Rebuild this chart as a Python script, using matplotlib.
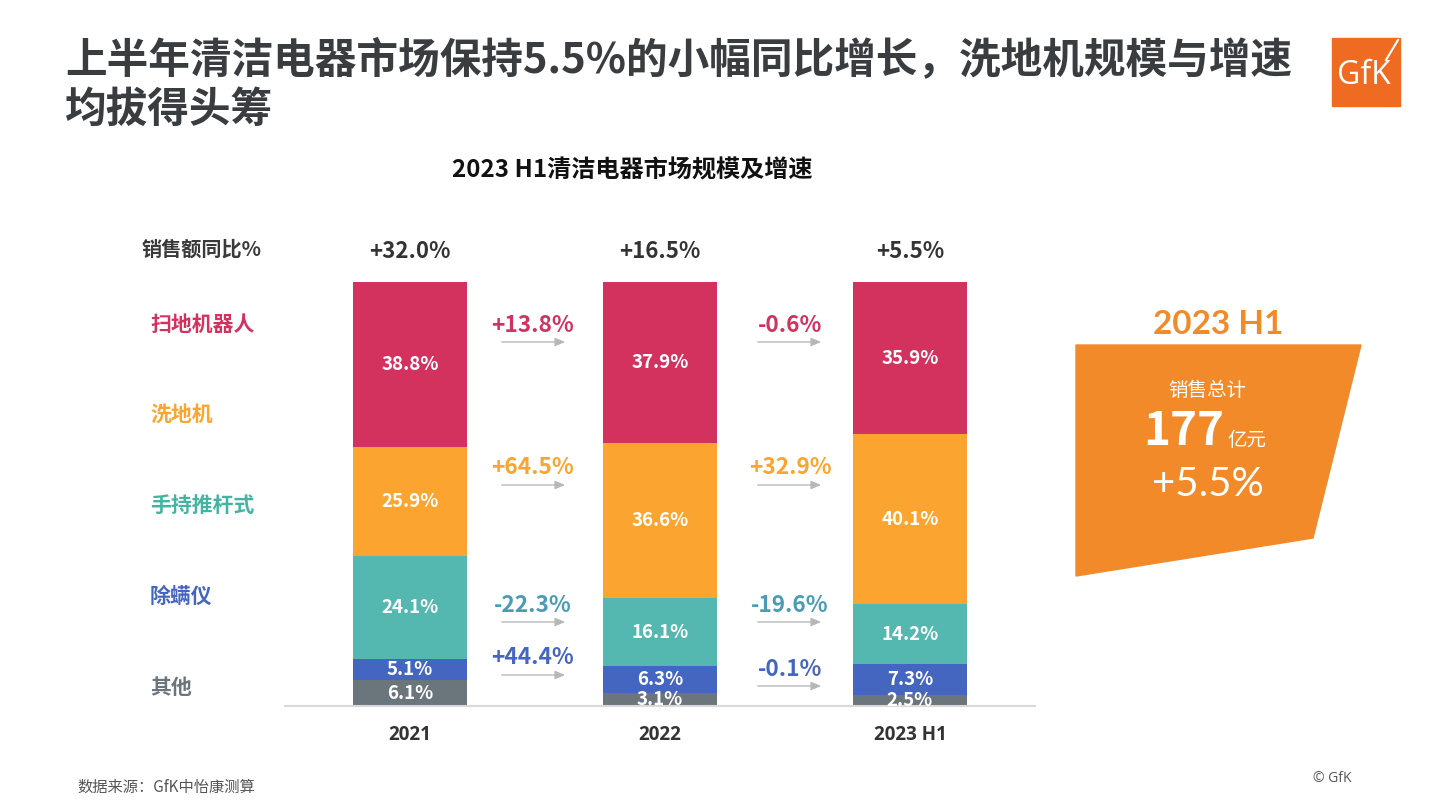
import matplotlib
matplotlib.use("Agg")
import matplotlib.pyplot as plt
from matplotlib.patches import Polygon, Rectangle
import numpy as np

plt.rcParams['font.family'] = ['Noto Sans CJK SC', 'DejaVu Sans']

# ---------------- data ----------------
years = ["2021", "2022", "2023 H1"]
categories = ["其他", "除螨仪", "手持推杆式", "洗地机", "扫地机器人"]  # bottom -> top
share_other = [6.1, 3.1, 2.5]
share_mite = [5.1, 6.3, 7.3]
share_stick = [24.1, 16.1, 14.2]
share_floor = [25.9, 36.6, 40.1]
share_robot = [38.8, 37.9, 35.9]
total_growth = ["+32.0%", "+16.5%", "+5.5%"]
# growth per category (top -> bottom rows: 扫地机器人, 洗地机, 手持推杆式, 除螨仪)
growth_labels_rows = ["扫地机器人", "洗地机", "手持推杆式", "除螨仪"]
growth_21_22 = ["+13.8%", "+64.5%", "-22.3%", "+44.4%"]
growth_22_23 = ["-0.6%", "+32.9%", "-19.6%", "-0.1%"]
total_sales = "177"
total_sales_unit = "亿元"
total_sales_growth = "+5.5%"

colors = {
    "其他": "#6b757c",
    "除螨仪": "#4566c0",
    "手持推杆式": "#55b8b0",
    "洗地机": "#fba42f",
    "扫地机器人": "#d3325f",
}
label_colors = {
    "其他": "#6b757c",
    "除螨仪": "#4566c0",
    "手持推杆式": "#45b3a2",
    "洗地机": "#fba42f",
    "扫地机器人": "#d3325f",
}
growth_colors = ["#d3325f", "#fba42f", "#4a9bb5", "#4566c0"]

W, H = 1441, 810
fig = plt.figure(figsize=(W / 100, H / 100), dpi=100)

# overlay axes in pixel coordinates
ov = fig.add_axes([0, 0, 1, 1])
ov.set_xlim(0, W)
ov.set_ylim(H, 0)
ov.axis("off")

# bar axes: x px 285..1035, y px 282..706
ax = fig.add_axes([285 / W, (H - 706) / H, 750 / W, 424 / H])
ax.set_xlim(-0.5, 2.5)
ax.set_ylim(0, 100)
for s in ["top", "right", "left"]:
    ax.spines[s].set_visible(False)
ax.spines["bottom"].set_color("#d9d9d9")
ax.spines["bottom"].set_linewidth(1.5)
ax.set_yticks([])
ax.set_xticks(range(3))
ax.set_xticklabels(years, fontsize=13.5, fontweight="bold", color="#333333",
                   family=["Open Sans", "Noto Sans CJK SC"])
ax.tick_params(axis="x", length=0, pad=14)
ax.patch.set_alpha(0)

shares = [share_other, share_mite, share_stick, share_floor, share_robot]
x = np.arange(3)
bottom = np.zeros(3)
bw = 0.456
for cat, vals in zip(categories, shares):
    vals = np.array(vals)
    ax.bar(x, vals, bw, bottom=bottom, color=colors[cat], edgecolor="none", zorder=2)
    for i in range(3):
        ax.text(x[i], bottom[i] + vals[i] / 2, f"{vals[i]:.1f}%", ha="center", va="center",
                color="white", fontsize=13.5, fontweight="bold",
                family=["Noto Sans CJK SC", "DejaVu Sans"], zorder=3, clip_on=True)
    bottom += vals

def py(p):
    return (706 - p) / 4.24

# totals
for i in range(3):
    ax.text(x[i], py(251), total_growth[i], ha="center", va="center", fontsize=16,
            color="#333333", family=["Noto Sans CJK SC", "DejaVu Sans"], fontweight="bold",
            clip_on=False)

# growth labels between bars
left_label_y = [326, 468, 605, 658]
left_arrow_y = [342, 485, 622, 675]
right_label_y = [326, 468, 605, 669]
right_arrow_y = [342, 485, 622, 686]
for k in range(4):
    ax.text((533 - 410) / 250, py(left_label_y[k]), growth_21_22[k], ha="center", va="center",
            fontsize=16.3, color=growth_colors[k], family=["Noto Sans CJK SC", "DejaVu Sans"],
            fontweight="bold", clip_on=False)
    ax.annotate("", xy=((568 - 410) / 250, py(left_arrow_y[k])),
                xytext=((499 - 410) / 250, py(left_arrow_y[k])),
                arrowprops=dict(arrowstyle="-|>,head_length=0.6,head_width=0.25",
                                color="#b8b8b8", lw=1.0), annotation_clip=False)
    ax.text((790 - 410) / 250, py(right_label_y[k]), growth_22_23[k], ha="center", va="center",
            fontsize=16.3, color=growth_colors[k], family=["Noto Sans CJK SC", "DejaVu Sans"],
            fontweight="bold", clip_on=False)
    ax.annotate("", xy=((824 - 410) / 250, py(right_arrow_y[k])),
                xytext=((755 - 410) / 250, py(right_arrow_y[k])),
                arrowprops=dict(arrowstyle="-|>,head_length=0.6,head_width=0.25",
                                color="#b8b8b8", lw=1.0), annotation_clip=False)

# left category labels
ov.text(142, 249, "销售额同比%", ha="left", va="center", fontsize=14.5,
        fontweight="bold", color="#3a3a3a")
left_y = {"扫地机器人": 324, "洗地机": 414, "手持推杆式": 505, "除螨仪": 596, "其他": 687}
for cat, yy in left_y.items():
    ov.text(150, yy, cat, ha="left", va="center", fontsize=15, fontweight="bold",
            color=label_colors[cat])

# main title
ov.text(65, 60, "上半年清洁电器市场保持5.5%的小幅同比增长，洗地机规模与增速", ha="left",
        va="center", fontsize=30, fontweight="bold", color="#3a3d40")
ov.text(65, 110, "均拔得头筹", ha="left", va="center", fontsize=30, fontweight="bold",
        color="#3a3d40")
ov.text(632, 170, "2023 H1清洁电器市场规模及增速", ha="center", va="center", fontsize=17.4,
        fontweight="bold", color="#111111")

# GfK logo
ov.add_patch(Rectangle((1332, 38), 68, 68, color="#f06b22", zorder=1))
ov.text(1364, 76, "GfK", ha="center", va="center", fontsize=23, color="white",
        family=["Open Sans", "DejaVu Sans"], zorder=2)
ov.plot([1386, 1398], [60, 40], color="white", lw=1.5, zorder=2)

# orange summary shape
ov.add_patch(Polygon([(1076, 345), (1361, 345), (1313, 538), (1076, 576)],
                     closed=True, color="#f28a2a", zorder=1))
ov.text(1218, 324, "2023 H1", ha="center", va="center", fontsize=24, color="#f28a2a",
        family=["Lato", "Noto Sans CJK SC"], fontweight="bold")
ov.text(1207, 390, "销售总计", ha="center", va="center", fontsize=14, color="white", zorder=2)
ov.text(1224, 432, total_sales, ha="right", va="center", fontsize=33, color="white",
        fontweight="heavy", family=["Noto Sans CJK SC", "DejaVu Sans"], zorder=2)
ov.text(1227, 441, total_sales_unit, ha="left", va="center", fontsize=14, color="white",
        zorder=2)
ov.text(1208, 485, total_sales_growth, ha="center", va="center", fontsize=29, color="white",
        family=["Lato", "Noto Sans CJK SC"], zorder=2)

# footnotes
ov.text(77, 787, "数据来源：GfK中怡康测算", ha="left", va="center", fontsize=11,
        color="#555555")
ov.text(1313, 779, "© GfK", ha="left", va="center", fontsize=10, color="#555555",
        family=["Open Sans", "DejaVu Sans"])

fig.savefig("out.png", dpi=100, facecolor="white")
